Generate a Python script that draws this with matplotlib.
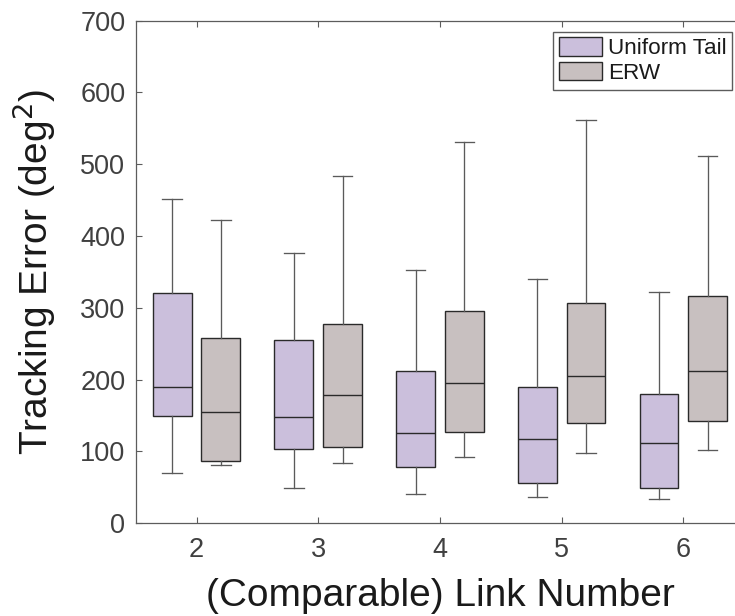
import matplotlib
matplotlib.use('Agg')
import matplotlib.pyplot as plt
from matplotlib.patches import Patch

plt.rcParams['font.family'] = ['Liberation Sans', 'DejaVu Sans']

# ---- data ----
links = [2, 3, 4, 5, 6]
series_names = ['Uniform Tail', 'ERW']

uniform_whislo = [70, 49, 40, 37, 34]
uniform_q1 = [149, 104, 78, 56, 49]
uniform_med = [190, 148, 125, 117, 112]
uniform_q3 = [320, 255, 212, 190, 180]
uniform_whishi = [452, 377, 353, 340, 322]

erw_whislo = [81, 84, 92, 98, 102]
erw_q1 = [87, 106, 127, 139, 142]
erw_med = [155, 178, 195, 205, 212]
erw_q3 = [258, 277, 296, 307, 316]
erw_whishi = [423, 484, 531, 562, 511]

yticks = [0, 100, 200, 300, 400, 500, 600, 700]

# ---- style ----
W, H = 735, 616
c_uniform = '#CBBFDC'
c_erw = '#C8C0C0'
edge = '#2A2A2A'
whisk = '#5A5A5A'
axis_c = '#5C5C5C'
tick_txt = '#404040'


def stats(lo, q1, med, q3, hi):
    return [dict(whislo=a, q1=b, med=c, q3=d, whishi=e, fliers=[])
            for a, b, c, d, e in zip(lo, q1, med, q3, hi)]


fig = plt.figure(figsize=(W / 100, H / 100), dpi=100)
ax = fig.add_axes([135.7 / W, 1 - 523.2 / H, 608.5 / W, (523.2 - 20.7) / H])

offset = 0.2
bw = 0.32
groups = [
    (stats(uniform_whislo, uniform_q1, uniform_med, uniform_q3, uniform_whishi), -offset, c_uniform),
    (stats(erw_whislo, erw_q1, erw_med, erw_q3, erw_whishi), offset, c_erw),
]
for st, off, col in groups:
    ax.bxp(st, positions=[x + off for x in links], widths=bw, capwidths=bw / 2,
           patch_artist=True, showfliers=False, manage_ticks=False,
           boxprops=dict(facecolor=col, edgecolor=edge, linewidth=1.0),
           medianprops=dict(color=edge, linewidth=1.0),
           whiskerprops=dict(color=whisk, linewidth=0.95),
           capprops=dict(color=whisk, linewidth=0.95))

ax.set_xlim(1.5, 6.5)
ax.set_ylim(0, 700)
ax.set_xticks(links)
ax.set_xticklabels([str(v) for v in links])
ax.set_yticks(yticks)
ax.set_yticklabels([str(v) for v in yticks])

for s in ax.spines.values():
    s.set_color(axis_c)
    s.set_linewidth(0.9)
ax.tick_params(axis='both', direction='in', length=4.5, width=0.8, color=axis_c,
               labelsize=19.5, labelcolor=tick_txt, top=True, right=True)
ax.tick_params(axis='x', pad=10)
ax.tick_params(axis='y', pad=7.5)

ax.set_xlabel('(Comparable) Link Number', fontsize=28, color='#1A1A1A', labelpad=11)
ax.set_ylabel('Tracking Error (deg$^2$)', fontsize=28, color='#1A1A1A')
ax.yaxis.set_label_coords(-(135.7 - 58) / 608.5, 0.5)

handles = [Patch(facecolor=c_uniform, edgecolor=edge, linewidth=1.0),
           Patch(facecolor=c_erw, edgecolor=edge, linewidth=1.0)]
leg = ax.legend(handles, series_names, loc='upper right',
                bbox_to_anchor=(732.3 / W, 1 - 31.7 / H), bbox_transform=fig.transFigure,
                borderaxespad=0, fontsize=16.2, fancybox=False, framealpha=1,
                edgecolor=axis_c, handlelength=1.9, handleheight=0.88,
                handletextpad=0.28, labelspacing=0.12, borderpad=0.25)
leg.get_frame().set_linewidth(1.0)
for t in leg.get_texts():
    t.set_color('#1A1A1A')

fig.savefig('out.png', dpi=100)
